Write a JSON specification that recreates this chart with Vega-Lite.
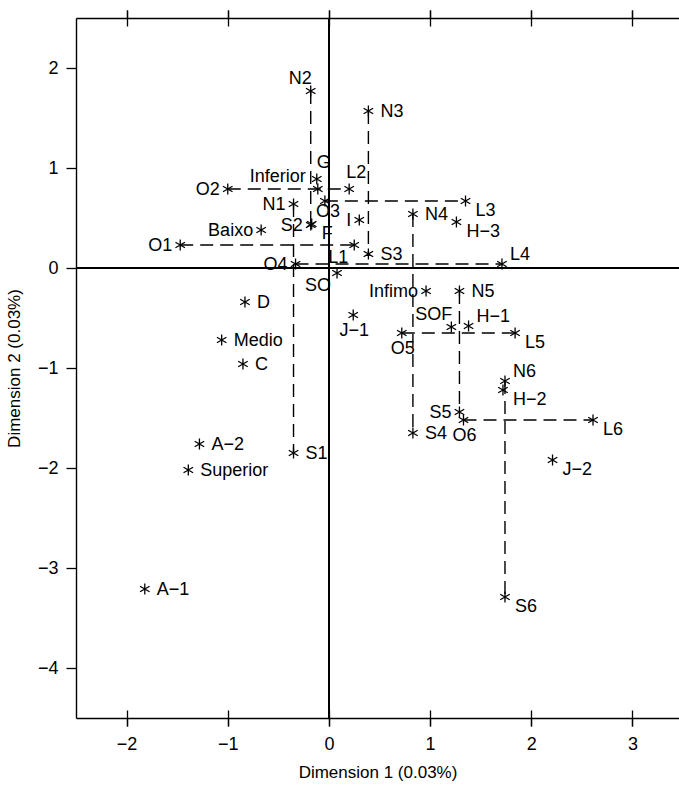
{
  "$schema": "https://vega.github.io/schema/vega-lite/v6.json",
  "width": 603,
  "height": 700,
  "autosize": {"type": "none"},
  "padding": {"left": 76, "top": 18, "right": 0, "bottom": 67},
  "config": {
    "view": {"stroke": null},
    "font": "Liberation Sans",
    "axis": {
      "domainColor": "black", "domainWidth": 1.4, "tickColor": "black", "tickWidth": 1.3,
      "labelColor": "black", "labelFontSize": 18, "labelFont": "Liberation Sans",
      "titleColor": "black", "titleFontSize": 17, "titleFontWeight": "normal", "titleFont": "Liberation Sans",
      "grid": false
    }
  },
  "datasets": {
    "pts": [
      {"label": "N1", "x": -0.35, "y": 0.64, "side": "W", "seg": "v1"},
      {"label": "S1", "x": -0.35, "y": -1.85, "side": "E", "seg": "v1"},
      {"label": "O1", "x": -1.47, "y": 0.23, "side": "W", "seg": "h1"},
      {"label": "L1", "x": 0.25, "y": 0.23, "side": "SW", "seg": "h1"},
      {"label": "N2", "x": -0.18, "y": 1.77, "side": "NNW", "seg": "v2"},
      {"label": "S2", "x": -0.18, "y": 0.43, "side": "W", "seg": "v2"},
      {"label": "O2", "x": -1.0, "y": 0.79, "side": "W", "seg": "h2"},
      {"label": "L2", "x": 0.2, "y": 0.79, "side": "NNE", "seg": "h2"},
      {"label": "N3", "x": 0.39, "y": 1.57, "side": "E", "seg": "v3"},
      {"label": "S3", "x": 0.39, "y": 0.14, "side": "E", "seg": "v3"},
      {"label": "O3", "x": -0.04, "y": 0.67, "side": "SS", "seg": "h3"},
      {"label": "L3", "x": 1.35, "y": 0.67, "side": "ESE", "seg": "h3"},
      {"label": "N4", "x": 0.83, "y": 0.54, "side": "E", "seg": "v4"},
      {"label": "S4", "x": 0.83, "y": -1.65, "side": "E", "seg": "v4"},
      {"label": "O4", "x": -0.33, "y": 0.04, "side": "W", "seg": "h4"},
      {"label": "L4", "x": 1.71, "y": 0.04, "side": "ENE", "seg": "h4"},
      {"label": "N5", "x": 1.29, "y": -0.23, "side": "E", "seg": "v5"},
      {"label": "S5", "x": 1.29, "y": -1.44, "side": "W", "seg": "v5"},
      {"label": "O5", "x": 0.72, "y": -0.65, "side": "S", "seg": "h5"},
      {"label": "L5", "x": 1.84, "y": -0.65, "side": "ESE", "seg": "h5"},
      {"label": "N6", "x": 1.74, "y": -1.13, "side": "ENE", "seg": "v6"},
      {"label": "S6", "x": 1.74, "y": -3.29, "side": "ESE", "seg": "v6"},
      {"label": "O6", "x": 1.33, "y": -1.52, "side": "S", "seg": "h6"},
      {"label": "L6", "x": 2.61, "y": -1.52, "side": "ESE", "seg": "h6"},
      {"label": "G", "x": -0.12, "y": 0.89, "side": "NNE"},
      {"label": "Inferior", "x": -0.11, "y": 0.79, "side": "WNW"},
      {"label": "I", "x": 0.3, "y": 0.48, "side": "W"},
      {"label": "F", "x": -0.17, "y": 0.44, "side": "ESE"},
      {"label": "Baixo", "x": -0.67, "y": 0.38, "side": "W"},
      {"label": "SO", "x": 0.08, "y": -0.05, "side": "SW"},
      {"label": "Infimo", "x": 0.96, "y": -0.23, "side": "W"},
      {"label": "SOF", "x": 1.21, "y": -0.59, "side": "NNW"},
      {"label": "H−1", "x": 1.38, "y": -0.58, "side": "ENE"},
      {"label": "H−2", "x": 1.72, "y": -1.22, "side": "ESE"},
      {"label": "H−3", "x": 1.26, "y": 0.46, "side": "ESE"},
      {"label": "J−1", "x": 0.24, "y": -0.47, "side": "S"},
      {"label": "J−2", "x": 2.21, "y": -1.92, "side": "ESE"},
      {"label": "D", "x": -0.83, "y": -0.34, "side": "E"},
      {"label": "Medio", "x": -1.06, "y": -0.72, "side": "E"},
      {"label": "C", "x": -0.85, "y": -0.96, "side": "E"},
      {"label": "A−2", "x": -1.28, "y": -1.76, "side": "E"},
      {"label": "Superior", "x": -1.39, "y": -2.02, "side": "E"},
      {"label": "A−1", "x": -1.82, "y": -3.21, "side": "E"}
    ]
  },
  "data": {"name": "pts"},
  "resolve": {"axis": {"x": "independent", "y": "independent"}},
  "layer": [
    {
      "mark": {"type": "rule", "color": "black", "strokeWidth": 1.4},
      "encoding": {
        "x": {"datum": 0, "type": "quantitative",
          "scale": {"domain": [-2.5, 3.46], "nice": false, "zero": false},
          "axis": {"orient": "bottom", "values": [-2, -1, 0, 1, 2, 3], "tickSize": 8, "labelPadding": 9, "title": "Dimension 1 (0.03%)", "titlePadding": 11}}
      }
    },
    {
      "mark": {"type": "rule", "color": "black", "strokeWidth": 1.4},
      "encoding": {
        "y": {"datum": 0, "type": "quantitative",
          "scale": {"domain": [-4.5, 2.5], "nice": false, "zero": false},
          "axis": {"orient": "left", "values": [-4, -3, -2, -1, 0, 1, 2], "tickSize": 10, "labelPadding": 8, "title": "Dimension 2 (0.03%)", "titlePadding": 14}}
      }
    },
    {
      "transform": [{"filter": "datum.seg != null"}],
      "mark": {"type": "line", "color": "black", "strokeWidth": 1.4, "strokeDash": [13, 7]},
      "encoding": {
        "x": {"field": "x", "type": "quantitative",
          "scale": {"domain": [-2.5, 3.46], "nice": false, "zero": false},
          "axis": {"orient": "top", "values": [-2, -1, 0, 1, 2, 3], "tickSize": 8, "labels": false, "title": null}},
        "y": {"field": "y", "type": "quantitative",
          "scale": {"domain": [-4.5, 2.5], "nice": false, "zero": false}, "axis": null},
        "detail": {"field": "seg"}
      }
    },
    {
      "mark": {"type": "point", "shape": "M0,-1L0,1M-0.87,-0.5L0.87,0.5M-0.87,0.5L0.87,-0.5", "filled": false, "stroke": "black", "strokeWidth": 1.3, "size": 120, "opacity": 1},
      "encoding": {
        "x": {"field": "x", "type": "quantitative",
          "scale": {"domain": [-2.5, 3.46], "nice": false, "zero": false},
          "axis": {"orient": "bottom", "values": [-2, -1, 0, 1, 2, 3], "offset": -8, "tickSize": 16, "labels": false, "domain": false, "title": null}},
        "y": {"field": "y", "type": "quantitative",
          "scale": {"domain": [-4.5, 2.5], "nice": false, "zero": false}, "axis": null}
      }
    },
    {
      "transform": [{"filter": "datum.side == 'E'"}],
      "mark": {"type": "text", "align": "left", "baseline": "middle", "dx": 12, "dy": 1, "fontSize": 18, "color": "black"},
      "encoding": {
        "x": {"field": "x", "type": "quantitative", "scale": {"domain": [-2.5, 3.46], "nice": false, "zero": false},
          "axis": {"orient": "top", "values": [-2, -1, 0, 1, 2, 3], "offset": -8, "tickSize": 16, "labels": false, "domain": false, "title": null}},
        "y": {"field": "y", "type": "quantitative", "scale": {"domain": [-4.5, 2.5], "nice": false, "zero": false}, "axis": null},
        "text": {"field": "label"}
      }
    },
    {
      "transform": [{"filter": "datum.side == 'W'"}],
      "mark": {"type": "text", "align": "right", "baseline": "middle", "dx": -8, "dy": 1, "fontSize": 18, "color": "black"},
      "encoding": {
        "x": {"field": "x", "type": "quantitative", "scale": {"domain": [-2.5, 3.46], "nice": false, "zero": false}, "axis": null},
        "y": {"field": "y", "type": "quantitative", "scale": {"domain": [-4.5, 2.5], "nice": false, "zero": false}, "axis": null},
        "text": {"field": "label"}
      }
    },
    {
      "transform": [{"filter": "datum.side == 'ESE'"}],
      "mark": {"type": "text", "align": "left", "baseline": "middle", "dx": 10, "dy": 10, "fontSize": 18, "color": "black"},
      "encoding": {
        "x": {"field": "x", "type": "quantitative", "scale": {"domain": [-2.5, 3.46], "nice": false, "zero": false}, "axis": null},
        "y": {"field": "y", "type": "quantitative", "scale": {"domain": [-4.5, 2.5], "nice": false, "zero": false}, "axis": null},
        "text": {"field": "label"}
      }
    },
    {
      "transform": [{"filter": "datum.side == 'ENE'"}],
      "mark": {"type": "text", "align": "left", "baseline": "middle", "dx": 8, "dy": -9, "fontSize": 18, "color": "black"},
      "encoding": {
        "x": {"field": "x", "type": "quantitative", "scale": {"domain": [-2.5, 3.46], "nice": false, "zero": false}, "axis": null},
        "y": {"field": "y", "type": "quantitative", "scale": {"domain": [-4.5, 2.5], "nice": false, "zero": false}, "axis": null},
        "text": {"field": "label"}
      }
    },
    {
      "transform": [{"filter": "datum.side == 'WNW'"}],
      "mark": {"type": "text", "align": "right", "baseline": "middle", "dx": -12, "dy": -12, "fontSize": 18, "color": "black"},
      "encoding": {
        "x": {"field": "x", "type": "quantitative", "scale": {"domain": [-2.5, 3.46], "nice": false, "zero": false}, "axis": null},
        "y": {"field": "y", "type": "quantitative", "scale": {"domain": [-4.5, 2.5], "nice": false, "zero": false}, "axis": null},
        "text": {"field": "label"}
      }
    },
    {
      "transform": [{"filter": "datum.side == 'NNW'"}],
      "mark": {"type": "text", "align": "right", "baseline": "middle", "dx": 1, "dy": -12, "fontSize": 18, "color": "black"},
      "encoding": {
        "x": {"field": "x", "type": "quantitative", "scale": {"domain": [-2.5, 3.46], "nice": false, "zero": false}, "axis": null},
        "y": {"field": "y", "type": "quantitative", "scale": {"domain": [-4.5, 2.5], "nice": false, "zero": false}, "axis": null},
        "text": {"field": "label"}
      }
    },
    {
      "transform": [{"filter": "datum.side == 'NNE'"}],
      "mark": {"type": "text", "align": "center", "baseline": "middle", "dx": 7, "dy": -16, "fontSize": 18, "color": "black"},
      "encoding": {
        "x": {"field": "x", "type": "quantitative", "scale": {"domain": [-2.5, 3.46], "nice": false, "zero": false}, "axis": null},
        "y": {"field": "y", "type": "quantitative", "scale": {"domain": [-4.5, 2.5], "nice": false, "zero": false}, "axis": null},
        "text": {"field": "label"}
      }
    },
    {
      "transform": [{"filter": "datum.side == 'S'"}],
      "mark": {"type": "text", "align": "center", "baseline": "middle", "dx": 1, "dy": 16, "fontSize": 18, "color": "black"},
      "encoding": {
        "x": {"field": "x", "type": "quantitative", "scale": {"domain": [-2.5, 3.46], "nice": false, "zero": false}, "axis": null},
        "y": {"field": "y", "type": "quantitative", "scale": {"domain": [-4.5, 2.5], "nice": false, "zero": false}, "axis": null},
        "text": {"field": "label"}
      }
    },
    {
      "transform": [{"filter": "datum.side == 'SS'"}],
      "mark": {"type": "text", "align": "center", "baseline": "middle", "dx": 3, "dy": 11, "fontSize": 18, "color": "black"},
      "encoding": {
        "x": {"field": "x", "type": "quantitative", "scale": {"domain": [-2.5, 3.46], "nice": false, "zero": false}, "axis": null},
        "y": {"field": "y", "type": "quantitative", "scale": {"domain": [-4.5, 2.5], "nice": false, "zero": false}, "axis": null},
        "text": {"field": "label"}
      }
    },
    {
      "transform": [{"filter": "datum.side == 'SW'"}],
      "mark": {"type": "text", "align": "right", "baseline": "middle", "dx": -6, "dy": 13, "fontSize": 18, "color": "black"},
      "encoding": {
        "x": {"field": "x", "type": "quantitative", "scale": {"domain": [-2.5, 3.46], "nice": false, "zero": false}, "axis": null},
        "y": {"field": "y", "type": "quantitative", "scale": {"domain": [-4.5, 2.5], "nice": false, "zero": false}, "axis": null},
        "text": {"field": "label"}
      }
    }
  ]
}
